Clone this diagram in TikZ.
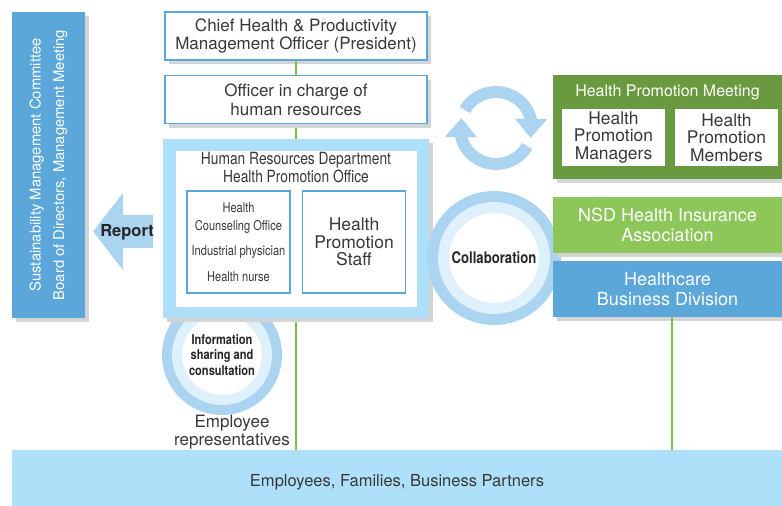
\documentclass[tikz,border=0pt]{standalone}
\usepackage{fontspec}
\setmainfont{TeX Gyre Heros}
\newfontfamily\condfont[FakeStretch=0.82]{TeX Gyre Heros}
\usetikzlibrary{positioning,arrows.meta,bending,shadows,calc}
\definecolor{deepblue}{HTML}{5BA7DA}
\definecolor{paleblue}{HTML}{AEE0FA}
\definecolor{ringblue}{HTML}{AAD4F0}
\definecolor{ringpale}{HTML}{DDF0FB}
\definecolor{darkgreen}{HTML}{6A9A3F}
\definecolor{lightgreen}{HTML}{8DC75A}
\definecolor{linegreen}{HTML}{7DC04B}
\definecolor{txtgray}{HTML}{383838}
\definecolor{shadowgray}{HTML}{D4D4D4}
\tikzset{
shadowed/.style={
drop shadow={shadow xshift=4pt,shadow yshift=-4pt,fill=shadowgray,opacity=1}
},
officebox/.style={
draw=deepblue,
line width=1.6pt,
fill=white,
shadowed,
minimum width=262pt,
minimum height=48pt,
inner sep=0pt,
align=center,
text=txtgray,
font=\fontsize{17}{18.5}\selectfont
},
subbox/.style={
draw=deepblue,
line width=1.6pt,
fill=white,
minimum width=103pt,
minimum height=102pt,
inner sep=0pt,
align=center,
text=txtgray
},
colorbox/.style={
fill=#1,
shadowed,
minimum width=229pt,
minimum height=56pt,
inner sep=0pt,
align=center,
text=white,
font=\fontsize{18}{20}\selectfont
},
memberbox/.style={
fill=white,
minimum width=103pt,
minimum height=57pt,
inner sep=0pt,
align=center,
text=txtgray,
font=\fontsize{17.4}{17.5}\selectfont
},
ringnode/.style n args={2}{
circle,
inner sep=0pt,
minimum size=#1,
fill=white,
draw=ringpale,
line width=#2,
preaction={draw=ringblue,line width=3*#2},
align=center,
text=black!85
},
vline/.style={
linegreen,
line width=2.6pt
},
cyclearrow/.style={
ringblue,
line width=12pt,
-{Triangle[width=31pt,length=19pt]}
}
}
\begin{document}
\begin{tikzpicture}[x=1pt,y=1pt]
\useasboundingbox (0,0) rectangle (782,506);

\node[fill=paleblue,minimum width=770pt,minimum height=65pt,inner sep=0pt,text=txtgray,font=\fontsize{16.5}{18}\selectfont](people) at (397,23.5){Employees, Families, Business Partners};

\node[officebox](chief) at (296,470){Chief Health \& Productivity\\Management Officer (President)};
\draw[vline](chief.south)--(chief.south |- people.north);
\node[officebox,below=14pt of chief](officer){Officer in charge of\\human resources};

\node[fill=deepblue,shadowed,minimum width=73pt,minimum height=306pt,inner sep=0pt](board) at (48.5,341){};
\node[rotate=90,align=center,text=white,font=\fontsize{14.8}{23.5}\selectfont](boardtext) at (board.center){Sustainability Management Committee\\Board of Directors, Management Meeting};

\fill[ringblue] (153,291)--(123,291)--(123,313)--(93,274.5)--(123,236)--(123,258)--(153,258)--cycle;
\node[font=\bfseries\fontsize{16.5}{18}\selectfont,text=black!85](report) at (127,274){Report};

\node[ringnode={90pt}{10pt},font=\condfont\bfseries\fontsize{13.5}{15.5}\selectfont](info) at (222,151){Information\\sharing and\\consultation};
\node[align=center,text=txtgray,font=\fontsize{17}{18}\selectfont](emprep) at (232,74){Employee\\representatives};

\node[fill=paleblue,shadowed,minimum width=266pt,minimum height=179pt,inner sep=0pt,below=14.5pt of officer](hr){};
\node[fill=white,minimum width=241pt,minimum height=156pt,inner sep=0pt](hrin) at (hr.center){};
\node[anchor=north,inner sep=0pt,align=center,text=txtgray,font=\condfont\fontsize{16.8}{18}\selectfont](hrtitle) at ([yshift=-1.5pt]hrin.north){Human Resources Department\\Health Promotion Office};
\node[subbox,font=\condfont\fontsize{13.5}{18}\selectfont](counsel) at (238.5,264){Health\\Counseling Office\\[7pt]Industrial physician\\[8pt]Health nurse};
\node[subbox,font=\fontsize{17.5}{17.5}\selectfont](staff) at (354,264){Health\\Promotion\\Staff};

\node[ringnode={101pt}{11pt},font=\condfont\bfseries\fontsize{16}{18}\selectfont](collab) at (494,248){Collaboration};

\coordinate(cyc) at (496,378);
\draw[cyclearrow]($(cyc)+(150:36)$) arc[start angle=150,end angle=-16,radius=36];
\draw[cyclearrow]($(cyc)+(-30:36)$) arc[start angle=-30,end angle=-196,radius=36];

\node[fill=darkgreen,shadowed,minimum width=229pt,minimum height=104pt,inner sep=0pt](hpm) at (667.5,379){};
\node[text=white,inner sep=0pt,font=\fontsize{16}{18}\selectfont](hpmtitle) at ([yshift=-18pt]hpm.north){Health Promotion Meeting};
\node[memberbox](managers) at (613.5,368.5){Health\\Promotion\\Managers};
\node[memberbox](members) at (726.5,368.5){Health\\Promotion\\Members};

\node[colorbox=lightgreen](nsd) at (667.5,281){NSD Health Insurance\\Association};
\node[colorbox=deepblue](hcbd) at (667.5,217){Healthcare\\Business Division};
\draw[vline]([xshift=4.5pt]hcbd.south)--([xshift=4.5pt]hcbd.south |- people.north);
\end{tikzpicture}
\end{document}
